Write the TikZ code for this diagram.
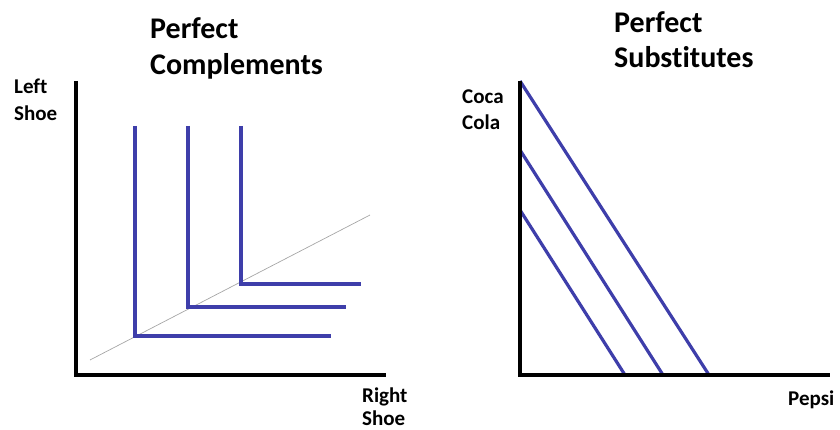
\documentclass[tikz,border=0pt]{standalone}
\usepackage{fontspec}
\setmainfont[Ligatures=NoCommon]{Carlito}
\definecolor{curveblue}{RGB}{62,62,170}
\begin{document}
\begin{tikzpicture}[x=1pt,y=-1pt,
  axisline/.style={line width=3.6pt,black},
  curve/.style={line width=3.2pt,curveblue},
  guide/.style={line width=0.7pt,gray!70},
  title/.style={anchor=base west,inner sep=0pt,font=\bfseries\fontsize{30}{36}\selectfont},
  lbl/.style={anchor=base west,inner sep=0pt,font=\bfseries\fontsize{21}{25}\selectfont}]
\useasboundingbox (0,0) rectangle (840,430);
% ---- left panel ----
\node[title] (t1a) at (150,39) {Perfect};
\node[title] (t1b) at (150,75) {Complements};
\node[lbl] (ls1) at (14,94) {Left};
\node[lbl] (ls2) at (14,121) {Shoe};
\node[lbl] (rs1) at (362,402) {Right};
\node[lbl] (rs2) at (362,425) {Shoe};
\coordinate (Ltop) at (76,81);
\coordinate (Lo) at (76,375);
\coordinate (Lright) at (386,375);
\coordinate (g1) at (90,360);
\coordinate (g2) at (370,215);
\draw[guide] (g1) -- (g2);
\coordinate (a1) at (135,126); \coordinate (c1) at (135,336); \coordinate (e1) at (331,336);
\coordinate (a2) at (188,126); \coordinate (c2) at (188,307); \coordinate (e2) at (346,307);
\coordinate (a3) at (241,126); \coordinate (c3) at (241,284); \coordinate (e3) at (361,284);
\draw[curve] (a1) -- (c1) -- (e1);
\draw[curve] (a2) -- (c2) -- (e2);
\draw[curve] (a3) -- (c3) -- (e3);
\draw[axisline] (Ltop) -- (Lo) -- (Lright);
% ---- right panel ----
\node[title] (t2a) at (614,33) {Perfect};
\node[title] (t2b) at (614,68) {Substitutes};
\node[lbl] (cc1) at (462,104) {Coca};
\node[lbl] (cc2) at (462,130) {Cola};
\node[lbl] (pe) at (788,405) {Pepsi};
\coordinate (Rtop) at (520,81);
\coordinate (Ro) at (520,375);
\coordinate (Rright) at (830,375);
\coordinate (s1) at (520,81);  \coordinate (f1) at (709,375);
\coordinate (s2) at (520,150); \coordinate (f2) at (663,375);
\coordinate (s3) at (520,210); \coordinate (f3) at (625,375);
\draw[curve] (s1) -- (f1);
\draw[curve] (s2) -- (f2);
\draw[curve] (s3) -- (f3);
\draw[axisline] (Rtop) -- (Ro) -- (Rright);
\end{tikzpicture}
\end{document}
